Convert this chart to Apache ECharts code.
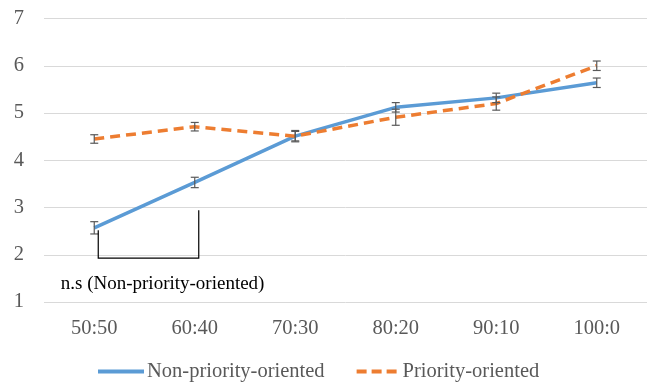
<!DOCTYPE html>
<html><head><meta charset="utf-8">
<script src="https://cdn.jsdelivr.net/npm/echarts@6/dist/echarts.min.js"></script>
<style>html,body{margin:0;padding:0;background:#fff}#c{width:660px;height:383px}</style>
</head><body><div id="c"></div>
<script>
const categories = ['50:50','60:40','70:30','80:20','90:10','100:0'];
const nonPriority = [2.57, 3.53, 4.51, 5.12, 5.32, 5.64];
const nonPriorityErr = [0.13, 0.11, 0.1, 0.1, 0.1, 0.1];
const priority = [4.45, 4.71, 4.51, 4.91, 5.2, 6.0];
const priorityErr = [0.09, 0.09, 0.12, 0.17, 0.14, 0.1];
const yTicks = [1, 2, 3, 4, 5, 6, 7];
const annotationText = 'n.s (Non-priority-oriented)';
// bracket: [left category, left top value, bottom value, right category, right top value]
const bracket = [0, 2.52, 1.93, 1, 2.94];
// annotation text: position between categories (fraction) and value
const annotationPos = [0.68, 1.39];

const FONT = '"Liberation Serif", "Times New Roman", serif';
const chart = echarts.init(document.getElementById('c'), null, {renderer: 'canvas'});

function errData(vals, errs) { return vals.map((v, i) => [i, v - errs[i], v + errs[i]]); }
function errRender(params, api) {
  const lo = api.coord([api.value(0), api.value(1)]);
  const hi = api.coord([api.value(0), api.value(2)]);
  const w = 4;
  const st = {stroke: '#595959', lineWidth: 1.2};
  return {type: 'group', children: [
    {type: 'line', shape: {x1: lo[0], y1: lo[1], x2: hi[0], y2: hi[1]}, style: st},
    {type: 'line', shape: {x1: lo[0]-w, y1: lo[1], x2: lo[0]+w, y2: lo[1]}, style: st},
    {type: 'line', shape: {x1: hi[0]-w, y1: hi[1], x2: hi[0]+w, y2: hi[1]}, style: st}
  ]};
}

chart.setOption({
  animation: false,
  grid: {left: 44, right: 13, top: 18.5, bottom: 81},
  legend: {
    bottom: -4, left: 93, itemWidth: 46, itemHeight: 4, itemGap: 32,
    textStyle: {fontFamily: FONT, fontSize: 20.5, color: '#595959', padding: [0, 0, 0, -2]},
    data: [
      {name: 'Non-priority-oriented', icon: 'path://M0,0L46,0L46,4L0,4Z'},
      {name: 'Priority-oriented', icon: 'path://M0,0L10,0L10,4L0,4ZM15,0L25,0L25,4L15,4ZM30,0L40,0L40,4L30,4Z'}
    ]
  },
  xAxis: {
    type: 'category', data: categories, boundaryGap: true,
    axisLine: {show: false}, axisTick: {show: false},
    axisLabel: {fontFamily: FONT, fontSize: 20.5, color: '#595959', margin: 16}
  },
  yAxis: {
    type: 'value', min: 1, max: 7, interval: 1,
    axisLabel: {fontFamily: FONT, fontSize: 20.5, color: '#595959', margin: 20,
      formatter: v => yTicks.includes(v) ? String(v) : ''},
    splitLine: {lineStyle: {color: '#d9d9d9', width: 1}},
    axisLine: {show: false}, axisTick: {show: false}
  },
  series: [
    {name: 'Non-priority-oriented', type: 'line', data: nonPriority, symbol: 'none',
      itemStyle: {color: '#5B9BD5'}, lineStyle: {color: '#5B9BD5', width: 3.5}, z: 3},
    {name: 'Priority-oriented', type: 'line', data: priority, symbol: 'none',
      itemStyle: {color: '#ED7D31'}, lineStyle: {color: '#ED7D31', width: 3.5, type: [10, 6]}, z: 3},
    {type: 'custom', data: errData(nonPriority, nonPriorityErr), renderItem: errRender, z: 4, silent: true},
    {type: 'custom', data: errData(priority, priorityErr), renderItem: errRender, z: 4, silent: true},
    {type: 'custom', data: [bracket], z: 5, silent: true,
      renderItem: function (params, api) {
        const a = api.coord([api.value(0), api.value(1)]);
        const b = api.coord([api.value(0), api.value(2)]);
        const c = api.coord([api.value(3), api.value(2)]);
        const d = api.coord([api.value(3), api.value(4)]);
        const off = 4;
        const p0 = api.coord([0, annotationPos[1]]);
        const p1 = api.coord([1, annotationPos[1]]);
        const tx = p0[0] + (p1[0] - p0[0]) * annotationPos[0];
        return {type: 'group', children: [
          {type: 'polyline', shape: {points: [[a[0]+off, a[1]], [b[0]+off, b[1]], [c[0]+off, c[1]], [d[0]+off, d[1]]]},
            style: {stroke: '#000', lineWidth: 1.2, fill: null}},
          {type: 'text', style: {text: annotationText, x: tx, y: p0[1], align: 'center', verticalAlign: 'middle',
            font: '19px ' + FONT, fill: '#000'}}
        ]};
      }}
  ]
});
</script></body></html>
